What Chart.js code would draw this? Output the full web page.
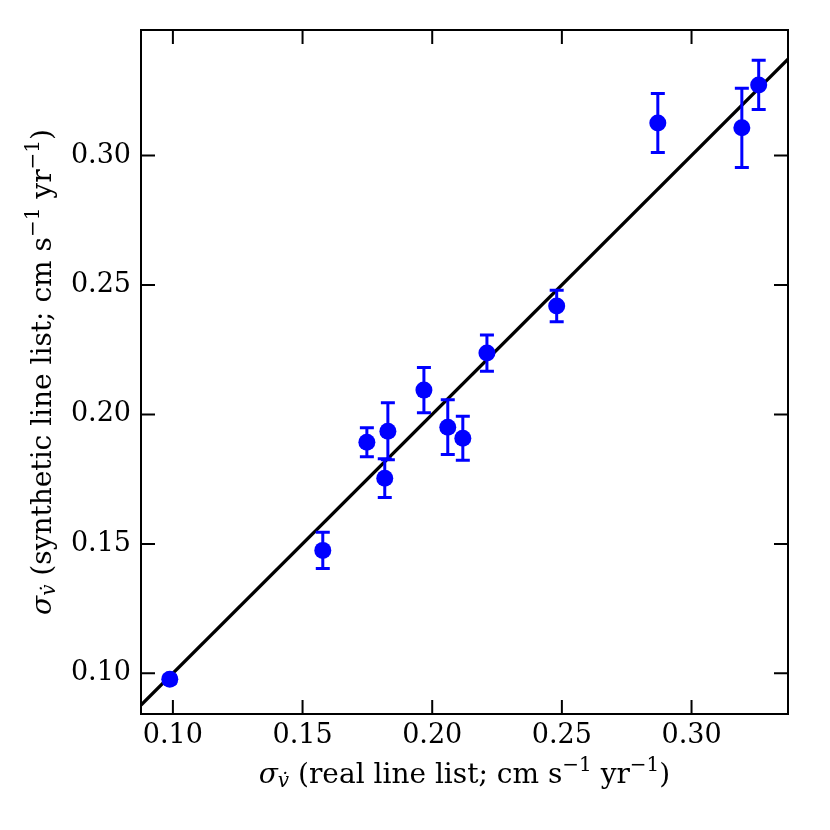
<!DOCTYPE html>
<html>
<head>
<meta charset="utf-8">
<script src="https://cdn.jsdelivr.net/npm/chart.js@4.4.1/dist/chart.umd.min.js"></script>
<style>
  html, body { margin: 0; padding: 0; background: #fff; }
</style>
</head>
<body>
<canvas id="chart" width="830" height="830"></canvas>
<script>
// sigma_vdot values
const realSigma  = [0.0988, 0.1578, 0.1748, 0.1817, 0.1829, 0.1968, 0.2060, 0.2118, 0.2211, 0.2480, 0.2870, 0.3194, 0.3259];
const synthSigma = [0.0977, 0.1475, 0.1893, 0.1754, 0.1935, 0.2094, 0.1951, 0.1908, 0.2237, 0.2419, 0.3126, 0.3107, 0.3273];
const synthErr   = [0.0015, 0.0070, 0.0056, 0.0075, 0.0110, 0.0087, 0.0106, 0.0085, 0.0070, 0.0061, 0.0114, 0.0153, 0.0095];
const xTicks = [0.10, 0.15, 0.20, 0.25, 0.30];
const yTicks = [0.10, 0.15, 0.20, 0.25, 0.30];
const xRange = [0.0877, 0.3372];
const yRange = [0.0843, 0.3485];

const FONT = "'DejaVu Serif', serif";

// frame, inward ticks on all four sides
const framePlugin = {
  id: "frame",
  afterDraw(chart) {
    const { ctx, chartArea: a, scales } = chart;
    ctx.save();
    ctx.strokeStyle = "#000";
    ctx.lineWidth = 2;
    ctx.beginPath();
    xTicks.forEach(v => {
      const px = scales.x.getPixelForValue(v);
      ctx.moveTo(px, a.bottom); ctx.lineTo(px, a.bottom - 14);
      ctx.moveTo(px, a.top); ctx.lineTo(px, a.top + 14);
    });
    yTicks.forEach(v => {
      const py = scales.y.getPixelForValue(v);
      ctx.moveTo(a.left, py); ctx.lineTo(a.left + 14, py);
      ctx.moveTo(a.right, py); ctx.lineTo(a.right - 14, py);
    });
    ctx.stroke();
    ctx.strokeRect(a.left, a.top, a.right - a.left, a.bottom - a.top);
    ctx.restore();

    // axis titles with sub/superscripts
    const F = 28;
    drawRich(ctx, [
      { t: "σ", it: true },
      { t: "v\u0307", it: true, s: 0.7, dy: 0.22 },
      { t: " (real line list; cm s" },
      { t: "−1", s: 0.7, dy: -0.35 },
      { t: " yr" },
      { t: "−1", s: 0.7, dy: -0.35 },
      { t: ")" }
    ], (a.left + a.right) / 2, 776, F, 0);
    drawRich(ctx, [
      { t: "σ", it: true },
      { t: "v\u0307", it: true, s: 0.7, dy: 0.22 },
      { t: " (synthetic line list; cm s" },
      { t: "−1", s: 0.7, dy: -0.35 },
      { t: " yr" },
      { t: "−1", s: 0.7, dy: -0.35 },
      { t: ")" }
    ], 44, (a.top + a.bottom) / 2, F, -Math.PI / 2);
  }
};

function drawRich(ctx, segs, cx, cy, F, rot) {
  ctx.save();
  ctx.translate(cx, cy);
  ctx.rotate(rot);
  ctx.fillStyle = "#000";
  ctx.textBaseline = "middle";
  ctx.textAlign = "left";
  const fontOf = s => (s.it ? "italic " : "") + Math.round(F * (s.s || 1)) + "px " + FONT;
  let total = 0;
  segs.forEach(s => { ctx.font = fontOf(s); s.w = ctx.measureText(s.t).width; total += s.w; });
  let x = -total / 2;
  segs.forEach(s => {
    ctx.font = fontOf(s);
    ctx.fillText(s.t, x, (s.dy || 0) * F);
    x += s.w;
  });
  ctx.restore();
}

// vertical error bars with caps, drawn just under the markers
const errorBarPlugin = {
  id: "errorBars",
  beforeDatasetDraw(chart, args) {
    if (args.index !== 1) return;
    const { ctx, scales } = chart;
    ctx.save();
    ctx.strokeStyle = "#0000ff";
    ctx.lineWidth = 3;
    ctx.beginPath();
    realSigma.forEach((xv, i) => {
      const px = scales.x.getPixelForValue(xv);
      const lo = scales.y.getPixelForValue(synthSigma[i] - synthErr[i]);
      const hi = scales.y.getPixelForValue(synthSigma[i] + synthErr[i]);
      ctx.moveTo(px, lo); ctx.lineTo(px, hi);
      ctx.moveTo(px - 7, lo); ctx.lineTo(px + 7, lo);
      ctx.moveTo(px - 7, hi); ctx.lineTo(px + 7, hi);
    });
    ctx.stroke();
    ctx.restore();
  }
};

const points = realSigma.map((x, i) => ({ x: x, y: synthSigma[i] }));

new Chart(document.getElementById("chart"), {
  type: "scatter",
  data: {
    datasets: [
      {
        type: "line",
        data: [{ x: xRange[0], y: xRange[0] }, { x: xRange[1], y: xRange[1] }],
        borderColor: "#000",
        borderWidth: 3.3,
        pointRadius: 0,
        order: 2
      },
      {
        data: points,
        backgroundColor: "#0000ff",
        borderWidth: 0,
        pointRadius: 8.5,
        pointHoverRadius: 8.5,
        order: 1
      }
    ]
  },
  options: {
    responsive: false,
    animation: false,
    devicePixelRatio: 1,
    layout: { padding: { left: 0, top: 30, right: 42, bottom: 0 } },
    plugins: { legend: { display: false }, tooltip: { enabled: false } },
    scales: {
      x: {
        type: "linear",
        min: xRange[0],
        max: xRange[1],
        afterBuildTicks: s => { s.ticks = xTicks.map(v => ({ value: v })); },
        afterFit: s => { s.height = 116; },
        grid: { display: false, drawTicks: false },
        border: { display: false },
        ticks: {
          padding: 6,
          color: "#000",
          font: { family: FONT, size: 27 },
          maxRotation: 0,
          callback: v => v.toFixed(2)
        }
      },
      y: {
        type: "linear",
        min: yRange[0],
        max: yRange[1],
        afterBuildTicks: s => { s.ticks = yTicks.map(v => ({ value: v })); },
        afterFit: s => { s.width = 141; },
        grid: { display: false, drawTicks: false },
        border: { display: false },
        ticks: {
          padding: 10,
          color: "#000",
          font: { family: FONT, size: 27 },
          callback: v => v.toFixed(2)
        }
      }
    }
  },
  plugins: [errorBarPlugin, framePlugin]
});
</script>
</body>
</html>
